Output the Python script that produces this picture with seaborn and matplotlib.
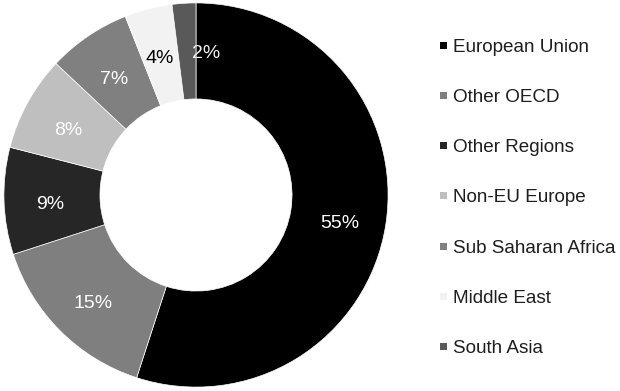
import matplotlib
matplotlib.use("Agg")
import matplotlib.pyplot as plt
from matplotlib.patches import Rectangle
import seaborn as sns

sns.set_theme(style="white")
plt.rcParams["font.family"] = ["Liberation Sans", "DejaVu Sans"]

# Share of total by region (percent)
regions = ["European Union", "Other OECD", "Other Regions", "Non-EU Europe",
           "Sub Saharan Africa", "Middle East", "South Asia"]
shares = [55, 15, 9, 8, 7, 4, 2]
colors = ["#000000", "#7f7f7f", "#262626", "#bfbfbf", "#808080", "#f2f2f2", "#595959"]
label_colors = ["white", "white", "white", "white", "white", "black", "#f0f0f0"]

W, H = 620, 391
fig = plt.figure(figsize=(W / 100, H / 100), dpi=100)
fig.patch.set_facecolor("white")

# Donut axes, square region on the left
ax = fig.add_axes([2 / W, 2 / H, 388 / W, 388 / H])
wedges, texts = ax.pie(
    shares,
    colors=colors,
    startangle=90,
    counterclock=False,
    radius=1.0,
    labels=[f"{v}%" for v in shares],
    labeldistance=0.76,
    wedgeprops=dict(width=0.5, edgecolor="white", linewidth=0.5),
    textprops=dict(fontsize=14),
)
for t, c in zip(texts, label_colors):
    t.set_color(c)
    t.set_ha("center")
    t.set_va("center")
    x, y = t.get_position()
    t.set_position((x, y - 0.028))
# the thinnest slice's label sits just right of its wedge
x, y = texts[-1].get_position()
texts[-1].set_position((x + 0.1, y + 0.008))
ax.set_xlim(-1.01, 1.01)
ax.set_ylim(-1.01, 1.01)
ax.set_aspect("equal")
ax.axis("off")

# Legend: one row per region, evenly spaced down the right side
top_y, row_step = 45, 50.3
for i, (name, col) in enumerate(zip(regions, colors)):
    yc = top_y + i * row_step
    fig.patches.append(Rectangle((440 / W, 1 - (yc + 3.5) / H), 7 / W, 7 / H,
                                 transform=fig.transFigure, facecolor=col,
                                 edgecolor="none"))
    fig.text(453 / W, 1 - yc / H, name, fontsize=13.6, color="#1e1e1e",
             ha="left", va="center_baseline")

fig.savefig("out.png", dpi=100)
